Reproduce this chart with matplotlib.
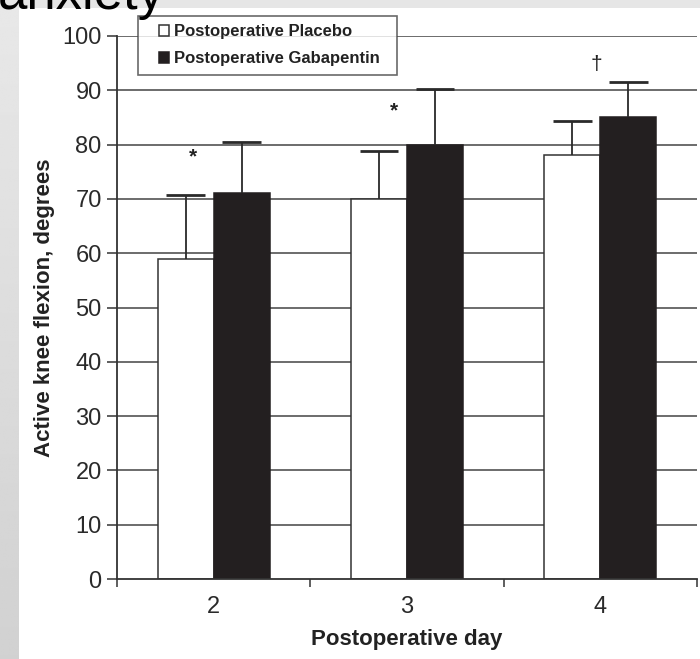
import matplotlib
matplotlib.use("Agg")
import matplotlib.pyplot as plt
from matplotlib.patches import Rectangle
from matplotlib.container import BarContainer
from matplotlib.legend_handler import HandlerPatch, update_from_first_child
import numpy as np

days = ["2", "3", "4"]
placebo = [59, 70, 78]
gabapentin = [71, 80, 85]
placebo_err = [11.8, 8.8, 6.4]
gabapentin_err = [9.5, 10.3, 6.5]
marks = ["*", "*", "\u2020"]
mark_y = [77.8, 86.3, 94.8]
series_names = ["Postoperative Placebo", "Postoperative Gabapentin"]
yticks = list(range(0, 101, 10))

plt.rcParams['font.family'] = ['Liberation Sans', 'DejaVu Sans']

W, H = 700, 659
fig = plt.figure(figsize=(W / 100, H / 100), dpi=100)
fig.patch.set_facecolor("white")

# gray screenshot surround
bg = fig.add_axes([0, 0, 19 / W, 1], zorder=-5)
grad = np.linspace(0.82, 0.91, 256).reshape(-1, 1)
bg.imshow(grad, aspect="auto", cmap="gray", vmin=0, vmax=1, origin="lower",
          extent=[0, 1, 0, 1])
bg.set_axis_off()
fig.patches.append(Rectangle((0, 1 - 8 / H), 1, 8 / H, transform=fig.transFigure,
                             facecolor="#e6e6e6", edgecolor="none", zorder=-4))
fig.text(-0.003, 1 - 9 / H, "anxiety", fontsize=38, color="black",
         va="baseline", ha="left")

ax = fig.add_axes([117 / W, (H - 579) / H, (697 - 117) / W, (579 - 36) / H])
ax.set_facecolor("none")

x = np.arange(2, 2 + len(days))
bw = 0.29
cap = 0.1
edge = "#333333"

for yv in yticks[1:]:
    ax.axhline(yv, color="#444444", lw=1.1, zorder=1)

ax.bar(x - bw / 2, placebo, bw, color="white", edgecolor=edge, lw=1.1,
       zorder=2, label=series_names[0])
ax.bar(x + bw / 2, gabapentin, bw, color="#231f20", edgecolor="#231f20", lw=1.1,
       zorder=2, label=series_names[1])

for xs, vals, errs in [(x - bw / 2, placebo, placebo_err),
                       (x + bw / 2, gabapentin, gabapentin_err)]:
    tops = np.array(vals) + np.array(errs)
    ax.vlines(xs, vals, tops, color="#2a2a2a", lw=1.3, zorder=3)
    ax.hlines(tops, xs - cap, xs + cap, color="#2a2a2a", lw=2.0, zorder=3)

mark_dx = [-0.106, -0.065, -0.02]
for xi, m, my, dx in zip(x, marks, mark_y, mark_dx):
    ax.text(xi + dx, my, m, ha="center", va="center", fontsize=15,
            color="#222222", fontweight="bold" if m == "*" else "normal")

ax.set_xlim(1.5, 4.5)
ax.set_ylim(0, 100)
ax.set_yticks(yticks)
ax.set_yticklabels([str(v) for v in yticks], fontsize=17, color="#2a2a2a")
ax.set_xticks(x)
ax.set_xticklabels(days, fontsize=17, color="#2a2a2a")
ax.set_xticks([1.5, 2.5, 3.5, 4.5], minor=True)
ax.tick_params(axis="x", which="major", length=0, pad=12)
ax.tick_params(axis="x", which="minor", length=6, width=1.1, color=edge)
ax.tick_params(axis="y", length=7, width=1.1, color=edge, pad=4)

for s in ["top", "right"]:
    ax.spines[s].set_visible(False)
for s in ["left", "bottom"]:
    ax.spines[s].set_color(edge)
    ax.spines[s].set_linewidth(1.3)
ax.spines["left"].set_zorder(4)

ax.set_xlabel("Postoperative day", fontsize=16, fontweight="bold",
              color="#222222", labelpad=8)
ax.set_ylabel("Active knee flexion, degrees", fontsize=16, fontweight="bold",
              color="#222222", labelpad=5)


def square_patch(legend, orig_handle, xdescent, ydescent, width, height, fontsize):
    s = 10.5 * 72 / 100  # square side in points
    return Rectangle((-xdescent + width - s, -ydescent + (height - s) / 2), s, s)


leg = ax.legend(loc="upper left",
                bbox_to_anchor=(21 / 580, 1 + 20 / 543 - 0.2, 259 / 580, 0.2),
                mode="expand", fontsize=12, frameon=True, fancybox=False,
                edgecolor="#444444", handlelength=1.36, handleheight=0.7,
                handletextpad=0.3, borderpad=0.5, labelspacing=0.72,
                borderaxespad=0,
                handler_map={BarContainer: HandlerPatch(
                    patch_func=square_patch, update_func=update_from_first_child)})
leg.get_frame().set_linewidth(1.2)
for t in leg.get_texts():
    t.set_fontweight("bold")
    t.set_color("#222222")
leg.set_zorder(5)

fig.savefig("out.png", dpi=100)
